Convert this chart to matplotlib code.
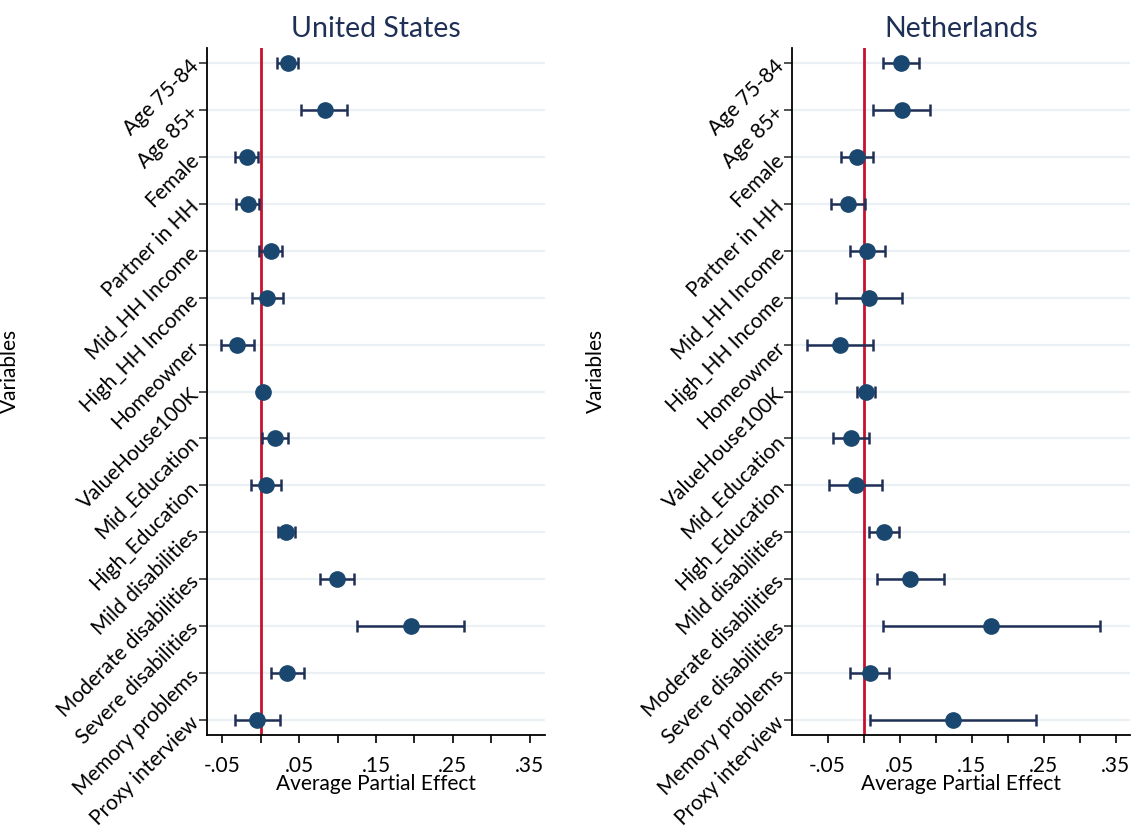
import matplotlib
matplotlib.use("Agg")
import matplotlib.pyplot as plt
import numpy as np

plt.rcParams['font.family'] = ['Lato', 'DejaVu Sans']

variables = ["Age 75-84", "Age 85+", "Female", "Partner in HH", "Mid_HH Income",
             "High_HH Income", "Homeowner", "ValueHouse100K", "Mid_Education",
             "High_Education", "Mild disabilities", "Moderate disabilities",
             "Severe disabilities", "Memory problems", "Proxy interview"]

us_est = [0.035, 0.083, -0.018, -0.0165, 0.013, 0.0087, -0.031, 0.003, 0.0186,
          0.0073, 0.033, 0.0993, 0.195, 0.034, -0.0044]
us_lo = [0.021, 0.053, -0.033, -0.032, -0.002, -0.012, -0.052, 0.000, 0.0017,
         -0.013, 0.022, 0.0777, 0.125, 0.013, -0.0335]
us_hi = [0.049, 0.112, -0.004, -0.002, 0.028, 0.029, -0.009, 0.007, 0.035,
         0.027, 0.045, 0.1215, 0.265, 0.056, 0.0247]

nl_est = [0.0518, 0.0532, -0.0093, -0.0218, 0.005, 0.0074, -0.0329, 0.0028, -0.018,
          -0.0111, 0.0278, 0.0648, 0.177, 0.0083, 0.1245]
nl_lo = [0.0268, 0.0129, -0.0315, -0.0454, -0.019, -0.038, -0.079, -0.0093, -0.0426,
         -0.048, 0.0069, 0.018, 0.0264, -0.0186, 0.0092]
nl_hi = [0.0768, 0.092, 0.0129, 0.0018, 0.0296, 0.0528, 0.0129, 0.0153, 0.0069,
         0.025, 0.0486, 0.112, 0.328, 0.0356, 0.24]

xticks = [-0.05, 0, 0.05, 0.1, 0.15, 0.2, 0.25, 0.3, 0.35]
xticklabels = ["-.05", "", ".05", "", ".15", "", ".25", "", ".35"]

fig = plt.figure(figsize=(11.34, 8.25), dpi=100)

panels = [
    ("United States", us_est, us_lo, us_hi, [0.1823, 0.1091, 0.2983, 0.8327], (-0.0703, 0.37)),
    ("Netherlands", nl_est, nl_lo, nl_hi, [0.6987, 0.1091, 0.2978, 0.8327], (-0.099, 0.37)),
]

navy = "#1a476f"
errc = "#1f2f55"
for title, est, lo, hi, rect, xlim in panels:
    ax = fig.add_axes(rect)
    y = np.arange(1, len(variables) + 1)
    est = np.array(est); lo = np.array(lo); hi = np.array(hi)
    for yy in y:
        ax.axhline(yy, color="#eaf0f3", lw=1.6, zorder=0)
    ax.axvline(0, color="#c8102e", lw=2.0, zorder=1)
    ax.errorbar(est, y, xerr=[est - lo, hi - est], fmt="none", ecolor=errc,
                elinewidth=1.8, capsize=4.5, capthick=1.8, zorder=2)
    ax.plot(est, y, "o", color=navy, markersize=11, zorder=3)
    ax.set_ylim(15.33, 0.67)
    ax.set_xlim(*xlim)
    ax.set_yticks(y)
    ax.set_yticklabels(variables, rotation=45, ha="right", va="center",
                       rotation_mode="anchor", fontsize=15)
    ax.set_xticks(xticks)
    ax.set_xticklabels(xticklabels, fontsize=15)
    ax.tick_params(axis="x", length=6, width=1.2, pad=9)
    ax.tick_params(axis="y", length=6, width=1.2, color="#333333", pad=2)
    for s in ["top", "right"]:
        ax.spines[s].set_visible(False)
    for s in ["left", "bottom"]:
        ax.spines[s].set_linewidth(1.3)
    ax.set_xlabel("Average Partial Effect", fontsize=15, labelpad=-1)
    ax.set_ylabel("Variables", fontsize=15)
    ax.set_title(title, fontsize=20.5, color="#1f3057", pad=8)

# position ylabels
for ax, xpos in zip(fig.axes, [20, 606]):
    ax.yaxis.set_label_coords((xpos - ax.get_position().x0 * 1134) / (ax.get_position().width * 1134), 0.53)

fig.savefig("out.png", dpi=100)
